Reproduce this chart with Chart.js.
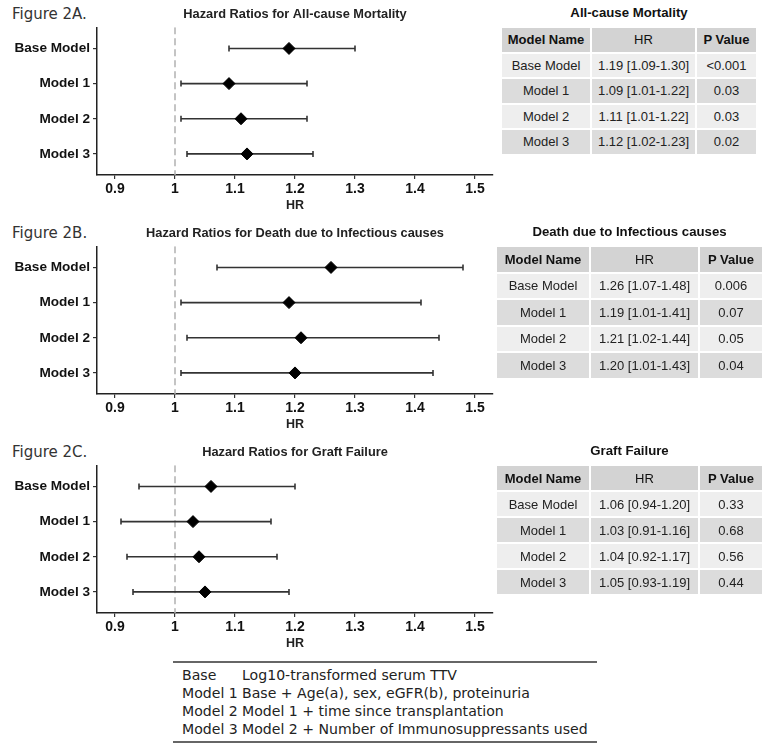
<!DOCTYPE html>
<html>
<head>
<meta charset="utf-8">
<script src="https://cdn.jsdelivr.net/npm/chart.js@4"></script>
<style>
  body { margin: 0; background: #fff; width: 771px; height: 752px; position: relative; font-family: "Liberation Sans", Arial, sans-serif; }
  .fig { position: absolute; left: 12px; font-family: "DejaVu Sans", Verdana, sans-serif; font-size: 15px; color: #333; }
  .plot { position: absolute; left: 0; }
  .ttl { position: absolute; font-weight: bold; font-size: 13.2px; color: #111; text-align: center; }
  table.res { position: absolute; border-collapse: separate; border-spacing: 2px; font-size: 13px; color: #222; }
  table.res td, table.res th { text-align: center; padding: 0; }
  table.res th { background: #d3d3d3; font-weight: bold; color: #111; }
  table.res tr:nth-child(even) td { background: #eeeeee; }
  table.res tr:nth-child(odd) td { background: #dcdcdc; }
  .foot { position: absolute; left: 173px; top: 661px; width: 424px; border-top: 2px solid #666; border-bottom: 2px solid #666; font-family: "DejaVu Sans", Verdana, sans-serif; font-size: 14.1px; color: #222; }
  .foot table { border-collapse: collapse; margin: 3px 0 3px 9px; }
  .foot td { padding: 0; height: 18px; white-space: nowrap; }
</style>
</head>
<body>
<script>
const models = ['Base Model', 'Model 1', 'Model 2', 'Model 3'];
const xTicks = [0.9, 1, 1.1, 1.2, 1.3, 1.4, 1.5];
const xTickLabels = ['0.9', '1', '1.1', '1.2', '1.3', '1.4', '1.5'];

const mortHR = [1.19, 1.09, 1.11, 1.12];
const mortLo = [1.09, 1.01, 1.01, 1.02];
const mortHi = [1.30, 1.22, 1.22, 1.23];
const mortP = ['<0.001', '0.03', '0.03', '0.02'];

const infHR = [1.26, 1.19, 1.21, 1.20];
const infLo = [1.07, 1.01, 1.02, 1.01];
const infHi = [1.48, 1.41, 1.44, 1.43];
const infP = ['0.006', '0.07', '0.05', '0.04'];

const graftHR = [1.06, 1.03, 1.04, 1.05];
const graftLo = [0.94, 0.91, 0.92, 0.93];
const graftHi = [1.20, 1.16, 1.17, 1.19];
const graftP = ['0.33', '0.68', '0.56', '0.44'];

const footRows = [
    ['Base', 'Log10-transformed serum TTV'],
    ['Model 1', 'Base + Age(a), sex, eGFR(b), proteinuria'],
    ['Model 2', 'Model 1 + time since transplantation'],
    ['Model 3', 'Model 2 + Number of Immunosuppressants used']
];

const panels = [
    { fig: 'Figure 2A.', title: 'Hazard Ratios for All-cause Mortality', table: 'All-cause Mortality', hr: mortHR, lo: mortLo, hi: mortHi, p: mortP,
      tLeft: 500, cols: [88, 103, 59], rowH: 23.5 },
    { fig: 'Figure 2B.', title: 'Hazard Ratios for Death due to Infectious causes', table: 'Death due to Infectious causes', hr: infHR, lo: infLo, hi: infHi, p: infP,
      tLeft: 495, cols: [92, 107, 62], rowH: 24.5 },
    { fig: 'Figure 2C.', title: 'Hazard Ratios for Graft Failure', table: 'Graft Failure', hr: graftHR, lo: graftLo, hi: graftHi, p: graftP,
      tLeft: 495, cols: [92, 107, 62], rowH: 24 }
];

const sans = '"Liberation Sans", Arial, sans-serif';

function fmt(v) { return v.toFixed(2); }

function addTable(pn, top) {
    const t = document.createElement('div');
    t.className = 'ttl';
    t.textContent = pn.table;
    const w = pn.cols.reduce((a, b) => a + b, 0) + 8;
    t.style.left = pn.tLeft + 'px';
    t.style.width = w + 'px';
    t.style.top = (top + 5) + 'px';
    document.body.appendChild(t);

    const tb = document.createElement('table');
    tb.className = 'res';
    tb.style.left = pn.tLeft + 'px';
    tb.style.top = (top + 26) + 'px';
    let html = '<tr>' + ['Model Name', 'HR', 'P Value'].map((h, i) => {
        const wt = h === 'HR' ? 'font-weight:normal;' : '';
        return '<th style="' + wt + 'width:' + pn.cols[i] + 'px;height:' + pn.rowH + 'px">' + h + '</th>';
    }).join('') + '</tr>';
    models.forEach((m, i) => {
        html += '<tr><td style="height:' + pn.rowH + 'px">' + m + '</td><td>' + fmt(pn.hr[i]) + ' [' + fmt(pn.lo[i]) + '-' + fmt(pn.hi[i]) + ']</td><td>' + pn.p[i] + '</td></tr>';
    });
    tb.innerHTML = html;
    document.body.appendChild(tb);
}

function addForest(pn, top) {
    const f = document.createElement('div');
    f.className = 'fig';
    f.style.top = (top + 5) + 'px';
    f.textContent = pn.fig;
    document.body.appendChild(f);

    const c = document.createElement('canvas');
    c.className = 'plot';
    c.width = 500;
    c.height = 215;
    c.style.top = top + 'px';
    document.body.appendChild(c);

    const datasets = [{
        data: pn.hr.map((v, i) => ({ x: v, y: i + 1 })),
        pointStyle: 'rectRot',
        pointRadius: 6,
        backgroundColor: '#000',
        borderColor: '#000',
        borderWidth: 1
    }];
    models.forEach((m, i) => {
        datasets.push({
            data: [{ x: pn.lo[i], y: i + 1 }, { x: pn.hi[i], y: i + 1 }],
            showLine: true,
            borderColor: '#333',
            borderWidth: 1.6,
            pointStyle: 'line',
            rotation: 90,
            pointRadius: 3,
            pointBorderColor: '#333',
            pointBorderWidth: 1.6
        });
    });
    datasets.push({
        data: [{ x: 1, y: 0.4 }, { x: 1, y: 4.6 }],
        showLine: true,
        borderColor: '#b0b0b0',
        borderWidth: 1.5,
        borderDash: [7, 4],
        pointRadius: 0
    });

    new Chart(c.getContext('2d'), {
        type: 'scatter',
        data: { datasets: datasets },
        options: {
            responsive: false,
            animation: false,
            layout: { padding: { right: 4 } },
            plugins: {
                legend: { display: false },
                tooltip: { enabled: false },
                title: {
                    display: true,
                    text: pn.title,
                    fullSize: false,
                    color: '#222',
                    font: { family: sans, size: 12.8, weight: 'bold' },
                    padding: { top: 7, bottom: 5 }
                }
            },
            scales: {
                x: {
                    type: 'linear',
                    min: 0.87,
                    max: 1.53,
                    afterBuildTicks: axis => { axis.ticks = xTicks.map(v => ({ value: v })); },
                    afterFit: axis => { axis.height = 40; },
                    ticks: {
                        color: '#111',
                        font: { family: sans, size: 14, weight: 'bold' },
                        padding: 2,
                        callback: v => xTickLabels[xTicks.indexOf(v)]
                    },
                    grid: { drawOnChartArea: false, color: '#333', tickLength: 4, lineWidth: 1.2 },
                    border: { display: true, color: '#222', width: 1.5 },
                    title: {
                        display: true,
                        text: 'HR',
                        color: '#222',
                        font: { family: sans, size: 12.5, weight: 'bold' },
                        padding: { top: 2, bottom: 2 }
                    }
                },
                y: {
                    type: 'linear',
                    reverse: true,
                    min: 0.4,
                    max: 4.6,
                    afterBuildTicks: axis => { axis.ticks = models.map((m, i) => ({ value: i + 1 })); },
                    afterFit: axis => { axis.width = 97; },
                    ticks: {
                        color: '#111',
                        font: { family: sans, size: 13.6, weight: 'bold' },
                        padding: 3,
                        callback: v => models[v - 1]
                    },
                    grid: { drawOnChartArea: false, color: '#333', tickLength: 4, lineWidth: 1.2 },
                    border: { display: true, color: '#222', width: 1.5 }
                }
            }
        }
    });
}

panels.forEach((pn, k) => {
    const top = k * 219;
    addForest(pn, top);
    addTable(pn, top);
});

const foot = document.createElement('div');
foot.className = 'foot';
foot.innerHTML = '<table>' + footRows.map(r => '<tr><td style="width:60px">' + r[0] + '</td><td>' + r[1] + '</td></tr>').join('') + '</table>';
document.body.appendChild(foot);
</script>
</body>
</html>
